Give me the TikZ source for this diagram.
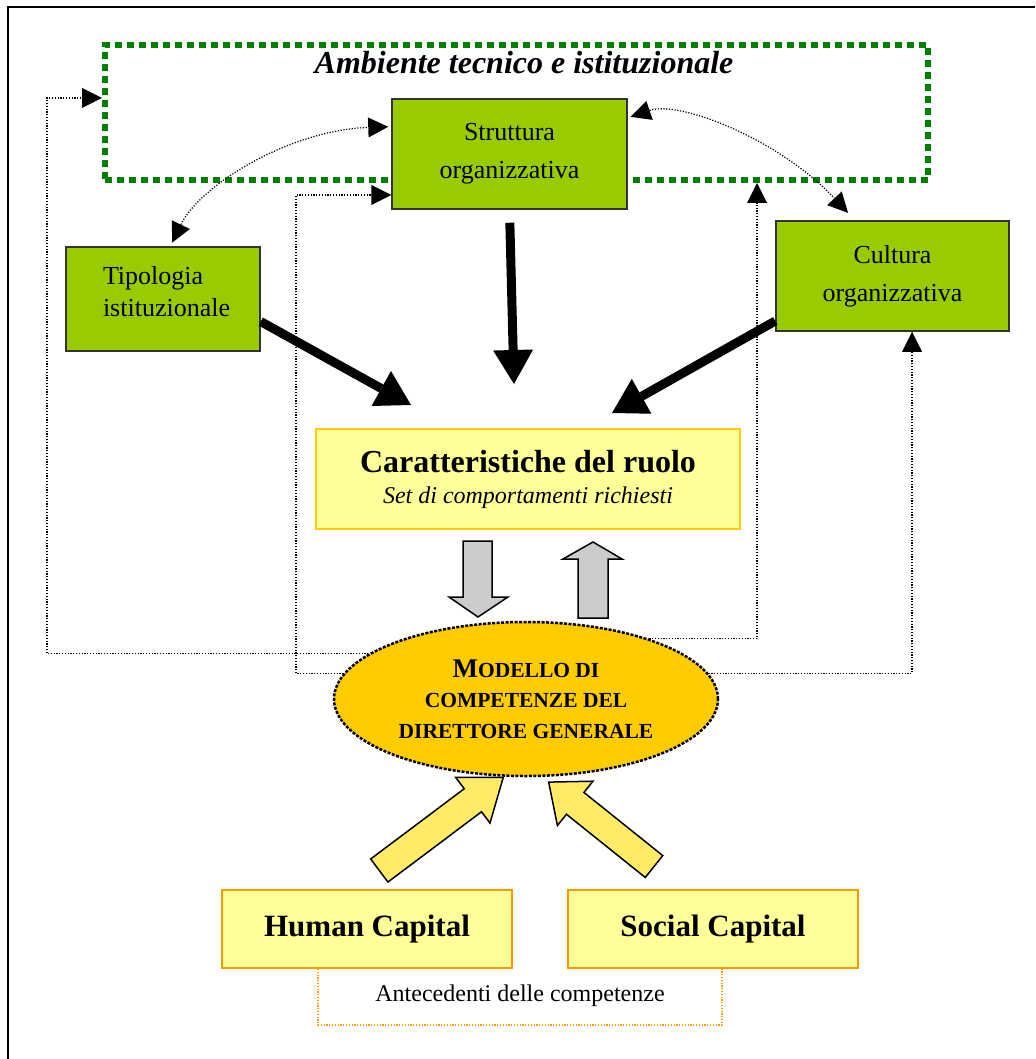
\documentclass[tikz,border=0pt]{standalone}
\usepackage{fontspec}
\setmainfont{Liberation Serif}
\usetikzlibrary{shapes.geometric,arrows.meta}
\definecolor{leaf}{HTML}{99CC00}
\definecolor{envgreen}{HTML}{008000}
\definecolor{cream}{HTML}{FFFF99}
\definecolor{gold}{HTML}{FFCC00}
\definecolor{amber}{HTML}{FF9900}
\definecolor{lightgrey}{HTML}{CCCCCC}
\definecolor{sunny}{HTML}{FFEB66}
\tikzset{leafbox/.style={draw=black!80, line width=1.5pt, fill=leaf, align=center, font=\fontsize{26}{38}\selectfont},
capbox/.style={draw=amber, line width=2pt, fill=cream, minimum width=290pt, minimum height=78pt, font=\fontsize{31}{36}\selectfont\bfseries},
dotline/.style={line width=1.2pt, dash pattern=on 1.2pt off 1.6pt},
%links between blocks, with triangle heads
link/.style={dotline, ->},
twoway/.style={dotline, <->},
heavy/.style={line width=9pt, -{Triangle[length=34pt,width=40pt,line width=0pt]}},
blockarrow/.style={draw=black, line width=1.5pt, line join=miter}}
\newcommand{\smallcap}[1]{{\fontsize{27}{30.5}\selectfont #1}}

\begin{document}
\begin{tikzpicture}[x=1pt, y=-1pt, >={Triangle[length=20pt,width=20pt,line width=0pt]}]

    \useasboundingbox (0,0) rectangle (1035,1059);
    \draw[line width=2.5pt] (1035,7) -- (8,7) -- (8,1059);

    % environment frame
    \node[draw=envgreen, line width=6pt, dash pattern=on 7pt off 5pt, minimum width=823pt, minimum height=135pt] (ambiente) at (516.5,112.5) {};
    \node[font=\fontsize{32}{36}\selectfont\bfseries\itshape] (titolo) at (524,63) {Ambiente tecnico e istituzionale};

    \node[leafbox, minimum width=235pt, minimum height=110pt] (struttura) at (509.5,154) {Struttura\\organizzativa};
    \node[leafbox, font=\fontsize{26}{32}\selectfont, minimum width=194pt, minimum height=104pt, text width=120pt, inner xsep=37pt, align=left, text depth=48pt] (tipologia) at (163,299) {Tipologia\\istituzionale};
    \node[leafbox, minimum width=233pt, minimum height=110pt] (cultura) at (892.5,276) {Cultura\\organizzativa};

    \node[draw=gold, line width=2pt, fill=cream, minimum width=424pt, minimum height=100pt, align=center, font=\fontsize{24}{31}\selectfont] (ruolo) at (528,479)
      {{\fontsize{32}{31}\selectfont\bfseries Caratteristiche del ruolo}\\{\itshape Set di comportamenti richiesti}};

    \node[ellipse, fill=gold, draw=black, line width=2.5pt, dash pattern=on 3pt off 1.5pt, minimum width=384pt, minimum height=154pt, inner sep=0pt, align=center, font=\fontsize{21.5}{30.5}\selectfont\bfseries] (modello) at (526,699)
      {\smallcap{M}ODELLO DI\\COMPETENZE DEL\\DIRETTORE GENERALE};

    \node[capbox] (human) at (367,929) {Human Capital};
    \node[capbox] (social) at (713,929) {Social Capital};
    \node[font=\fontsize{24}{28}\selectfont] (antecedenti) at (520,996) {Antecedenti delle competenze};
    \draw[amber, dotline] ([xshift=-49pt]human.south) -- ++(0,56) -| ([xshift=9pt]social.south);

    % dotted feedback links
    \coordinate (a1) at (47,98);
    \coordinate (a2) at (296,195);
    \coordinate (a3) at (757,0);
    \coordinate (a4) at (912,0);
    \draw[link] (modello.164) -| (a1) -- (a1 -| ambiente.west);
    \draw[link] (modello.172) -| (a2) -- (a2 -| struttura.west);
    \draw[link] (modello.26) -| (a3 |- ambiente.south);
    \draw[link] (modello.8) -| (a4 |- cultura.south);

    \draw[twoway, shorten <=4pt, shorten >=3pt] (tipologia.82) .. controls (200,185) and (290,130) .. (struttura.167);
    \draw[twoway, shorten <=3pt, shorten >=10pt] (struttura.17) .. controls (680,100) and (780,140) .. (cultura.124);

    % heavy arrows into the role
    \coordinate (t1) at (411,405);
    \coordinate (t2) at (514,384);
    \coordinate (t3) at (612,413);
    \draw[heavy] (tipologia.-13) -- (t1);
    \draw[heavy, shorten <=13pt] (struttura.south) -- (t2);
    \draw[heavy] (cultura.201) -- (t3);

    % grey block arrows
    \draw[blockarrow, fill=lightgrey] (463,541) -- (492,541) -- (492,597) -- (508,597) -- (478,617) -- (449,597) -- (463,597) -- cycle;
    \draw[blockarrow, fill=lightgrey] (578,618) -- (608,618) -- (608,559) -- (622,559) -- (593,542) -- (563,559) -- (578,559) -- cycle;

    % yellow block arrows
    \begin{scope}[shift={(379.3,870.5)}, rotate=36.9]
      \draw[blockarrow, fill=sunny] (0,-14.4) -- (117,-14.4) -- (117,-28.5) -- (155,0) -- (117,28.5) -- (117,14.4) -- (0,14.4) -- cycle;
    \end{scope}
    \begin{scope}[shift={(654,866.5)}, rotate=141.3]
      \draw[blockarrow, fill=sunny] (0,-14) -- (101,-14) -- (101,-28.4) -- (135,0) -- (101,28.4) -- (101,14) -- (0,14) -- cycle;
    \end{scope}

\end{tikzpicture}
\end{document}
